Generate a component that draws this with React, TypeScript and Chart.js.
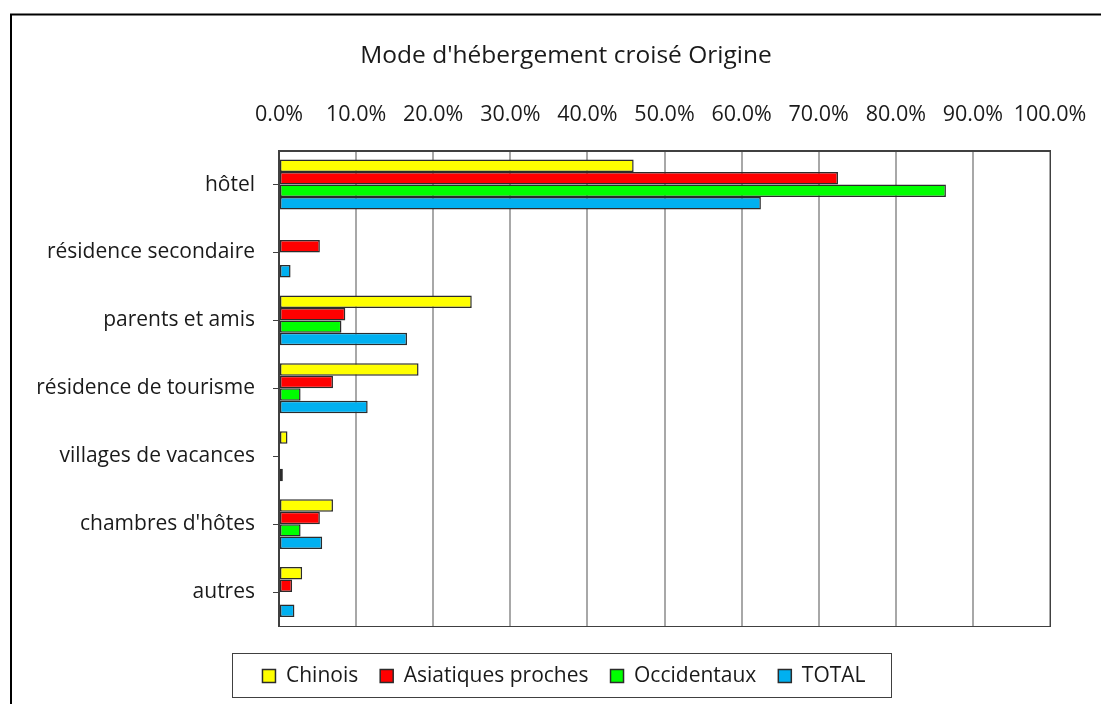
import React, { useEffect, useRef } from "react";
import { Chart, registerables } from "chart.js";

Chart.register(...registerables);

const TITLE = "Mode d'hébergement croisé Origine";
const CATEGORIES = [
  "hôtel",
  "résidence secondaire",
  "parents et amis",
  "résidence de tourisme",
  "villages de vacances",
  "chambres d'hôtes",
  "autres",
];
const SERIES_NAMES = ["Chinois", "Asiatiques proches", "Occidentaux", "TOTAL"];
const CHINOIS = [46.0, 0, 25.0, 18.1, 1.1, 7.0, 3.0];
const ASIATIQUES = [72.5, 5.3, 8.6, 7.0, 0, 5.3, 1.7];
const OCCIDENTAUX = [86.5, 0, 8.1, 2.8, 0, 2.8, 0];
const TOTAL = [62.5, 1.5, 16.6, 11.5, 0.5, 5.6, 2.0];
const COLORS = ["#FFFF00", "#FF0000", "#00FF00", "#00B0F0"];
const X_MIN = 0;
const X_MAX = 100;
const X_STEP = 10;

const FONT = "'Open Sans', 'DejaVu Sans', sans-serif";
const TEXT = "#1a1a1a";
const LEGEND_FONT = 21;
const LEGEND_PAD = 22;

const framePlugin = {
  id: "framePlugin",
  beforeDraw(chart: any) {
    const { ctx, width, height } = chart;
    ctx.save();
    ctx.fillStyle = "#ffffff";
    ctx.fillRect(0, 0, width, height);
    ctx.strokeStyle = "#000000";
    ctx.lineWidth = 2;
    ctx.strokeRect(11, 14.5, width + 40, height + 40);
    ctx.restore();
  },
  afterLayout(chart: any) {
    const tb = chart.titleBlock;
    if (tb) {
      const dx = 26;
      tb.left += dx;
      tb.right += dx;
    }
    const lg = chart.legend;
    if (lg) {
      const dx = 24;
      const dy = 17.5;
      lg.left += dx;
      lg.right += dx;
      lg.top += dy;
      lg.bottom += dy;
    }
  },
  beforeDatasetsDraw(chart: any) {
    const { ctx, chartArea } = chart;
    ctx.save();
    ctx.strokeStyle = "#404040";
    ctx.lineWidth = 1;
    ctx.strokeRect(
      Math.round(chartArea.left) + 0.5,
      Math.round(chartArea.top) + 0.5,
      Math.round(chartArea.right - chartArea.left),
      Math.round(chartArea.bottom - chartArea.top)
    );
    ctx.restore();
  },
  afterDraw(chart: any) {
    const lg = chart.legend;
    if (!lg || !lg.legendHitBoxes || !lg.legendHitBoxes.length) return;
    const hb = lg.legendHitBoxes;
    const first = hb[0];
    const last = hb[hb.length - 1];
    const cy = lg.top + LEGEND_PAD + LEGEND_FONT / 2;
    const { ctx } = chart;
    ctx.save();
    ctx.strokeStyle = "#404040";
    ctx.lineWidth = 1;
    const l = Math.round(first.left - 30) + 0.5;
    const r = Math.round(last.left + last.width + 25) + 0.5;
    const t = Math.round(cy - 23) + 0.5;
    const b = Math.round(cy + 21) + 0.5;
    ctx.strokeRect(l, t, r - l, b - t);
    ctx.restore();
  },
};

export default function App() {
  const ref = useRef<HTMLCanvasElement | null>(null);

  useEffect(() => {
    if (!ref.current) return;
    const seriesData = [CHINOIS, ASIATIQUES, OCCIDENTAUX, TOTAL];
    const chart = new Chart(ref.current, {
      type: "bar",
      data: {
        labels: CATEGORIES,
        datasets: SERIES_NAMES.map((name, i) => ({
          label: name,
          data: seriesData[i],
          backgroundColor: COLORS[i],
          borderColor: "#2b2b2b",
          borderWidth: 1.5,
          borderSkipped: false,
          categoryPercentage: 0.735,
          barPercentage: 1.0,
        })),
      },
      options: {
        indexAxis: "y",
        animation: false,
        responsive: false,
        devicePixelRatio: 1,
        layout: { padding: { left: 30, right: 51, top: 0, bottom: 25 } },
        plugins: {
          title: {
            display: true,
            text: TITLE,
            color: TEXT,
            font: { family: FONT, size: 24.5, weight: "normal" },
            padding: { top: 41, bottom: 28.4 },
          },
          legend: {
            display: true,
            position: "bottom",
            labels: {
              color: TEXT,
              font: { family: FONT, size: LEGEND_FONT },
              boxWidth: 13,
              boxHeight: 13,
              padding: LEGEND_PAD,
            },
          },
          tooltip: { enabled: false },
        },
        scales: {
          x: {
            type: "linear",
            position: "top",
            min: X_MIN,
            max: X_MAX,
            ticks: {
              stepSize: X_STEP,
              color: TEXT,
              font: { family: FONT, size: 21.5 },
              padding: 3,
              maxRotation: 0,
              minRotation: 0,
              autoSkip: false,
              callback: (v: any) => Number(v).toFixed(1) + "%",
            },
            grid: {
              color: "#a8a8a8",
              lineWidth: 2,
              drawTicks: true,
              tickLength: 20,
              tickColor: "rgba(0,0,0,0)",
            },
            border: { display: true, color: "#404040", width: 1 },
          },
          y: {
            type: "category",
            afterFit: (scale: any) => {
              scale.width = 249;
            },
            ticks: {
              color: TEXT,
              font: { family: FONT, size: 21 },
              padding: 18,
            },
            grid: {
              display: true,
              drawOnChartArea: false,
              drawTicks: true,
              tickLength: 6,
              offset: false,
              color: "#404040",
              lineWidth: 1,
            },
            border: { display: true, color: "#404040", width: 1.5 },
          },
        },
      },
      plugins: [framePlugin],
    });
    return () => chart.destroy();
  }, []);

  return (
    <div
      style={{
        position: "fixed",
        left: 0,
        top: 0,
        width: 1101,
        height: 704,
        overflow: "hidden",
        background: "#ffffff",
      }}
    >
      <canvas ref={ref} width={1101} height={704} style={{ display: "block" }} />
    </div>
  );
}
